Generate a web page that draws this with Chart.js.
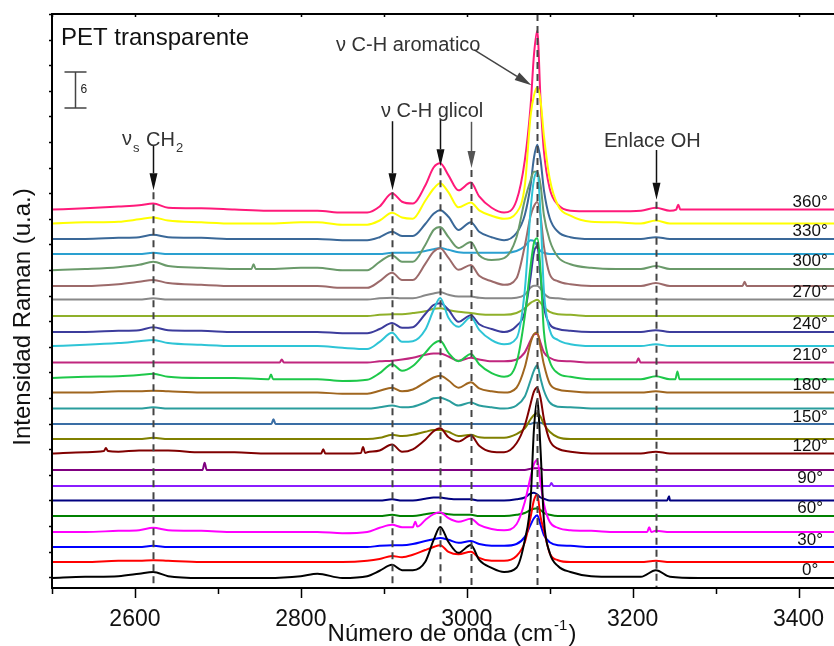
<!DOCTYPE html>
<html>
<head>
<meta charset="utf-8">
<script src="https://cdn.jsdelivr.net/npm/chart.js@4/dist/chart.umd.min.js"></script>
<style>
  html, body { margin: 0; padding: 0; background: #fff; overflow: hidden; }
</style>
</head>
<body>
<canvas id="raman" width="842" height="646"></canvas>
<script>
// Raman shift grid (cm-1), shared by all spectra
const wavenumbers = [2500, 2540, 2580, 2605, 2622, 2640, 2680, 2720, 2760, 2800,
  2820, 2850, 2880, 2895, 2910, 2922, 2935, 2950, 2960, 2968,
  2978, 2990, 3005, 3015, 3030, 3045, 3060, 3070, 3077, 3081,
  3085, 3089, 3093, 3100, 3110, 3125, 3150, 3180, 3210, 3228,
  3245, 3280, 3340, 3400, 3450];

// rotation angle of each spectrum (degrees)
const angles = [0, 15, 30, 45, 60, 75, 90, 105, 120, 135, 150, 165, 180,
  195, 210, 225, 240, 255, 270, 285, 300, 315, 330, 345, 360];

// vertical offset of each spectrum in the stack (u.a.)
const offsets = [1.67, 4.33, 6.83, 9.33, 12, 14.58, 17, 19.67, 22.42, 24.83, 27.33, 29.92,
  32.58, 35, 37.58, 40.33, 42.67, 45.33, 48.08, 50.33, 53.17, 55.67, 58.17, 60.75, 63.08];

// bottom axis labels
const xTickLabels = [2600, 2800, 3000, 3200, 3400];

// intensities above each spectrum's own baseline (u.a.)
const s0 = [0,0.2,0.3,0.7,1,0.3,0,0,0,0.3, 0.7,0,0.3,1.2,2.2,1.3,1.3,2.7,6.3,8.5, 6,4.2,5.5,3,1.7,1,1.7,6.3,13,24.7, 29.7,21.3,9.7,4.2,2,1,0.3,0.2,0.2,1.3, 0.2,0,0,0,0];
const s15 = [0,0,0.2,0.2,0.3,0.2,0,0,0,0, 0,0,0.2,0.5,1,0.8,1.2,2,2.5,2.8, 1.7,1.3,1.7,0.7,0.2,0.2,1,3.3,7.5,10.3, 11.2,7.5,5.3,1.5,0.3,0,0,0,0,0.2, 0,0,0,0,0];
const s30 = [0,0,0,0,0.2,0,0,0,0,0, 0,0,0,0.2,0.3,0.3,0.5,1,1.3,1.5, 1.2,0.7,1,0.5,0.2,0.2,0.5,1.7,3.7,4.8, 5.3,3.7,2,0.8,0.3,0.2,0,0,0,0, 0,0,0,0,0];
const s45 = [0,0,0.2,0.3,0.7,0.3,0.2,0,0,0, 0,-0.2,0,0.7,1.2,0.8,0.8,2,3,3.3, 2.3,1.7,2.2,1.2,0.5,0.3,1.3,5,9.2,11.3, 12,8.2,4.7,1.7,0.7,0.3,0.2,0,0,0.2, 0,0,0,0,0];
const s60 = [0,0,0,0,0,0,0,0,0,0, 0,0,0,0,0.2,0,0,0.3,0.5,0.5, 0.3,0.2,0.2,0,0,0,0.2,0.5,1,1.2, 1.3,1,0.5,0.2,0,0,0,0,0,0, 0,0,0,0,0];
const s75 = [0,0,0,0,0,0,0,0,0,0, 0,0,0,0,0.2,0,0,0.3,0.5,0.5, 0.3,0.2,0.2,0,0,0,0.2,0.5,1.2,1.3, 1,0.5,0.3,0,0,0,0,0,0,0, 0,0,0,0,0];
const s90 = [0,0,0,0,0,0,0,0,0,0, 0,0,0,0,0,0,0,0,0,0, 0,0,0,0,0,0,0,0,0,0, 0,0,0,0,0,0,0,0,0,0, 0,0,0,0,0];
const s105 = [0,0,0,0,0,0,0,0,0,0, 0,0,0,0,0,0,0,0,0,0, 0,0,0,0,0,0,0,0,0.2,0.3, 0.3,0.3,0,0,0,0,0,0,0,0, 0,0,0,0,0];
const s120 = [0,0.2,0.3,0.5,0.5,0.5,0.2,0.2,0,0, 0,0,0.2,0.5,1.5,0.3,0.7,2.3,3.7,4.2, 2.7,2,3,1.3,0.3,0.2,1.7,4.7,8.3,10.3, 11,9.2,5.8,2.2,0.8,0.3,0,0,0,0.3, 0,0,0,0,0];
const s135 = [0,0,0,0,0.2,0,0,0,0,0, 0,0,0,0.2,0.7,0.5,0.7,1.2,1.5,1.5, 1.2,0.5,0.7,0.3,0.2,0.2,0.8,1.8,3.3,4, 4.3,3.7,2.5,1.2,0.3,0,0,0,0,0, 0,0,0,0,0];
const s150 = [0,0,0,0,0,0,0,0,0,0, 0,0,0,0,0,0,0,0,0,0, 0,0,0,0,0,0,0,0,0,0.2, 0.2,0.2,0,0,0,0,0,0,0,0, 0,0,0,0,0];
const s165 = [0,0,0,0,0.2,0,0,0,0,0, 0,0,0,0.2,0.5,0.2,0.3,1,1.7,1.8, 1.3,0.5,1,0.5,0.2,0,0.5,2,4.7,6.3, 7.2,5,3,1,0.3,0.2,0,0,0,0, 0,0,0,0,0];
const s180 = [0,0,0.2,0.2,0.3,0.2,0,0,0,0, 0,-0.2,-0.2,0.3,0.8,0.2,0.5,1.7,2.5,2.8, 2,0.8,1.7,0.7,0.2,0,0.8,4.2,8.3,9.7, 10,7.5,4.7,1.5,0.5,0.2,0,0,0,0.2, 0,0,0,0,0];
const s195 = [0,0.2,0.3,0.5,0.7,0.2,0,0,-0.2,-0.2, -0.2,-0.5,-0.3,0.8,2.3,1.2,2,4.2,5.7,6.2, 4.2,2.8,4,2.3,0.8,0.2,2.5,10.3,18.7,22.5, 23.3,17.8,7.8,2.8,0.8,0.2,-0.2,-0.2,-0.2,0.3, -0.2,-0.2,-0.2,-0.2,-0.2];
const s210 = [0,0,0,0,0,0,0,0,0,0, 0,0,0,0.2,0.3,0.5,0.8,1.3,1.5,1.5, 1,0.3,0.8,0.5,0.2,0.2,0.5,1.7,3.7,4.7, 4.8,3.3,1.7,0.8,0.3,0.2,0,0,0,0, 0,0,0,0,0];
const s225 = [0,0.2,0.5,0.8,1,0.5,0.2,0,0,0, 0,-0.3,-0.5,0.7,2.2,0.7,0.8,2.7,6,8, 4.7,3.2,4.8,2.7,1,0.3,1.3,9.3,22.7,27.7, 29,21.8,9.3,2.7,1,0.3,0,0,0,0.3, 0,0,0,0,0];
const s240 = [0,0,0.2,0.3,0.8,0.3,0.2,0,0,0, 0,-0.2,-0.2,0.5,1.5,0.7,0.8,3,4.5,4.8, 3.7,1.7,2.8,1.3,0.5,0,1,3.3,9.2,13.3, 14.3,9.2,4.2,1.3,0.5,0.2,0,0,0,0.3, 0,0,0,0,0];
const s255 = [0,0,0,0,0,0,0,0,0,0, 0,0,0,0.2,0.3,0.3,0.5,0.8,1.2,1.3, 1,0.7,0.5,0.3,0.2,0.2,0.5,1.3,2.2,2.5, 2.7,2.2,1.5,0.7,0.3,0.2,0,0,0,0, 0,0,0,0,0];
const s270 = [0,0,0,0,0.2,0,0,0,0,0, 0,0,0,0.2,0.3,0.2,0.2,0.7,1,1.2, 0.8,0.5,0.5,0.3,0.2,0.2,0.3,0.8,2,2.3, 2.3,1.8,1,0.3,0.2,0,0,0,0,0, 0,0,0,0,0];
const s285 = [0,0,0.3,0.7,1,0.5,0.2,0,0,0, 0,-0.3,-0.3,0.8,2.2,1,1,3.7,5.7,6.3, 4.7,2.7,3.5,1.7,0.8,0.2,1.3,6.7,11.7,13.3, 14,11.7,6.7,2,0.8,0.3,0,0,0,0.5, 0,0,0,0,0];
const s300 = [-0.2,0,0.3,0.7,1.2,0.5,0.2,0,0,0.2, 0.2,-0.2,-0.2,1.2,2.3,1.2,1.2,4,6.5,7, 5.3,3.5,4.5,2.3,1.5,1.8,5.3,11.5,14.8,16.2, 16.2,14,9,4.8,2,0.8,0.2,0,0,0.5, 0,0,0,0,0];
const s315 = [0,0,0,0,0.2,0,0,0,0,0, 0,0,0,0,0.2,0.2,0.2,0.5,0.8,1, 0.7,0.3,0.2,0.2,0.2,0.2,0.5,1.3,2.3,2.2, 1.3,0.5,0.2,0,0,0,0,0,0,0, 0,0,0,0,0];
const s330 = [0,0,0.2,0.3,0.7,0.3,0.2,0,0,0, 0,-0.2,-0.2,0.3,1.2,0.5,0.5,2.5,4.2,4.8, 3.7,1.5,2.8,1.2,0.3,-0.2,1,4,9,13.5, 15.7,13.2,8.2,3.5,1.2,0.3,0,0,0,0.3, 0,0,0,0,0];
const s345 = [0,0.2,0.3,0.7,1,0.5,0.2,0,0,0.2, 0.2,-0.2,-0.2,0.5,1.8,1,0.8,3.8,5.8,6.7, 5.2,2.7,3.5,2.2,1.3,0.8,1.8,6.3,18,21.3, 22.7,20.5,14.7,7.5,3,1.3,0.3,0.2,0,0.5, 0,0,0,0,0];
const s360 = [0,0.2,0.5,0.7,1,0.3,0.2,0,-0.2,-0.2, -0.2,-0.5,-0.5,0.5,2.7,1.3,1,4,7,7.7, 5.7,3.2,4.5,2.2,0.3,-0.5,1.5,8.2,17.3,25.7, 29.8,18.2,9.8,3.5,0.8,-0.2,-0.3,-0.3,-0.2,0.3, -0.2,0,0,0,0];

const spectra = [s0, s15, s30, s45, s60, s75, s90, s105, s120, s135, s150, s165, s180,
  s195, s210, s225, s240, s255, s270, s285, s300, s315, s330, s345, s360];

// narrow cosmic-ray spikes: [angle, wavenumber, local base, top]
const spikes = [
  [360, 3255, 0, 0.8], [300, 2743, 0, 0.8], [285, 3335, 0, 0.7],
  [210, 2777, 0, 0.5], [210, 3207, 0, 0.7], [195, 2764, -0.2, 0.6],
  [195, 3254, -0.2, 1.1], [150, 2767, 0, 0.8], [120, 2565, 0.4, 0.9],
  [120, 2827, 0, 0.7], [120, 2875, 0.1, 1.1], [105, 2684, 0, 1.2],
  [90, 3102, 0, 0.5], [75, 3244, 0, 0.7], [45, 2938, 0.9, 1.7], [45, 3220, 0, 0.8]
];

// marked bands: wavenumber, arrow tail and tip heights (u.a.)
const bands = [
  { wn: 2622, tail: 73.8, tip: 66.3, color: '#111' },
  { wn: 2910, tail: 77.8, tip: 66.3, color: '#111' },
  { wn: 2968, tail: 78.0, tip: 70.3, color: '#111' },
  { wn: 3005, tail: 77.7, tip: 70.0, color: '#555' },
  { wn: 3228, tail: 73.0, tip: 64.7, color: '#111' }
];
const aromaticBand = 3085;

const colors = ['#000000', '#ff0000', '#0000ff', '#ff00ff', '#008000', '#000080', '#8a1cff',
  '#800080', '#800000', '#808000', '#3a6ea5', '#2a9d9d', '#a0661f', '#1ec84a', '#c0267e',
  '#2ec4d6', '#3c3c9c', '#8fb02a', '#888888', '#9c6a6a', '#6a9a6a', '#2aa0d0', '#3a6898',
  '#ffff00', '#ff1a7a'];

const FONT = '"Liberation Sans", Arial, sans-serif';
Chart.defaults.font.family = FONT;

function buildPoints(i) {
  const pts = wavenumbers.map((wn, k) => ({ x: wn, y: offsets[i] + spectra[i][k] }));
  spikes.filter(s => s[0] === angles[i]).forEach(([, wn, base, top]) => {
    pts.push({ x: wn - 2.5, y: offsets[i] + base }, { x: wn, y: offsets[i] + top },
      { x: wn + 2.5, y: offsets[i] + base });
  });
  return pts.sort((a, b) => a.x - b.x);
}

function arrow(ctx, x1, y1, x2, y2, color, head, half) {
  const ang = Math.atan2(y2 - y1, x2 - x1);
  const c = Math.cos(ang), s = Math.sin(ang);
  ctx.setLineDash([]);
  ctx.strokeStyle = color;
  ctx.fillStyle = color;
  ctx.lineWidth = 1.5;
  ctx.beginPath();
  ctx.moveTo(x1, y1);
  ctx.lineTo(x2 - head * c, y2 - head * s);
  ctx.stroke();
  ctx.beginPath();
  ctx.moveTo(x2, y2);
  ctx.lineTo(x2 - head * c + half * s, y2 - head * s - half * c);
  ctx.lineTo(x2 - head * c - half * s, y2 - head * s + half * c);
  ctx.closePath();
  ctx.fill();
}

const YTICK_STEP = 4.267;

const decorations = {
  id: 'decorations',
  afterDraw(chart) {
    const { ctx, chartArea: a, scales: { x, y } } = chart;
    ctx.save();

    // dashed band markers
    ctx.strokeStyle = '#444';
    ctx.lineWidth = 2;
    ctx.setLineDash([7, 5]);
    bands.forEach(b => {
      const px = Math.round(x.getPixelForValue(b.wn)) + 0.5;
      ctx.beginPath();
      ctx.moveTo(px, y.getPixelForValue(b.tip) + 2);
      ctx.lineTo(px, a.bottom);
      ctx.stroke();
    });
    const apx = Math.round(x.getPixelForValue(aromaticBand)) + 0.5;
    ctx.beginPath();
    ctx.moveTo(apx, a.top);
    ctx.lineTo(apx, a.bottom);
    ctx.stroke();

    // arrows
    bands.forEach(b => {
      const px = Math.round(x.getPixelForValue(b.wn)) + 0.5;
      arrow(ctx, px, y.getPixelForValue(b.tail), px, y.getPixelForValue(b.tip), b.color, 17, 4);
    });
    arrow(ctx, x.getPixelForValue(3009), y.getPixelForValue(89.7),
      x.getPixelForValue(3078), y.getPixelForValue(83.8), '#444', 17, 4.5);

    // frame
    ctx.setLineDash([]);
    ctx.strokeStyle = '#000';
    ctx.lineWidth = 2;
    ctx.beginPath();
    ctx.moveTo(a.right + 5, a.top);
    ctx.lineTo(a.left, a.top);
    ctx.lineTo(a.left, a.bottom);
    ctx.lineTo(a.right + 5, a.bottom);
    ctx.stroke();

    // x ticks: bottom outward, top inward
    ctx.lineWidth = 1.5;
    for (let wn = 2500; wn <= 3400; wn += 100) {
      const px = Math.round(x.getPixelForValue(wn)) + 0.5;
      const len = wn % 200 === 0 ? 10 : 6;
      ctx.beginPath();
      ctx.moveTo(px, a.bottom);
      ctx.lineTo(px, a.bottom + len);
      ctx.moveTo(px, a.top);
      ctx.lineTo(px, a.top + 3);
      ctx.stroke();
    }
    // y ticks, unlabeled
    for (let v = y.max; v > y.min; v -= YTICK_STEP) {
      const py = Math.round(y.getPixelForValue(v)) + 0.5;
      ctx.beginPath();
      ctx.moveTo(a.left, py);
      ctx.lineTo(a.left - 3, py);
      ctx.stroke();
    }

    // intensity scale bar (6 u.a.)
    const bx = Math.round(x.getPixelForValue(2528)) + 0.5;
    const by1 = y.getPixelForValue(86), by0 = y.getPixelForValue(80);
    ctx.strokeStyle = '#444';
    ctx.lineWidth = 1.5;
    ctx.beginPath();
    ctx.moveTo(bx, by1); ctx.lineTo(bx, by0);
    ctx.moveTo(bx - 11, by1); ctx.lineTo(bx + 11, by1);
    ctx.moveTo(bx - 11, by0); ctx.lineTo(bx + 11, by0);
    ctx.stroke();
    ctx.fillStyle = '#222';
    ctx.font = '12px ' + FONT;
    ctx.textBaseline = 'middle';
    ctx.fillText('6', bx + 5, (by0 + by1) / 2);

    // labels
    ctx.textBaseline = 'alphabetic';
    ctx.fillStyle = '#111';
    ctx.font = '24px ' + FONT;
    ctx.fillText('PET transparente', 61, 45);

    ctx.fillStyle = '#333';
    ctx.font = '20px ' + FONT;
    ctx.fillText('\u03bd C-H aromatico', 336, 51);
    ctx.fillText('\u03bd C-H glicol', 381, 117);
    ctx.fillText('Enlace OH', 604, 147);

    ctx.fillText('\u03bd', 122, 145);
    ctx.font = '13px ' + FONT;
    ctx.fillText('s', 133, 152);
    ctx.font = '20px ' + FONT;
    ctx.fillText('CH', 146, 146);
    const chw = ctx.measureText('CH').width;
    ctx.font = '13px ' + FONT;
    ctx.fillText('2', 146 + chw + 1, 152);

    // angle of each spectrum, every 30 degrees
    ctx.fillStyle = '#111';
    ctx.font = '17px ' + FONT;
    ctx.textAlign = 'center';
    ctx.textBaseline = 'middle';
    const lx = x.getPixelForValue(3414);
    angles.forEach((ang, i) => {
      if (ang % 30 === 0) ctx.fillText(ang + '\u00b0', lx, y.getPixelForValue(offsets[i] + 1.2));
    });

    // axis titles
    ctx.fillStyle = '#111';
    ctx.textBaseline = 'alphabetic';
    ctx.textAlign = 'left';
    const main = 'N\u00famero de onda (cm', sup = '-1', close = ')';
    ctx.font = '24px ' + FONT;
    const wMain = ctx.measureText(main).width, wClose = ctx.measureText(close).width;
    ctx.font = '15px ' + FONT;
    const wSup = ctx.measureText(sup).width;
    let tx = 452 - (wMain + wSup + wClose + 2) / 2;
    ctx.font = '24px ' + FONT;
    ctx.fillText(main, tx, 641);
    ctx.font = '15px ' + FONT;
    ctx.fillText(sup, tx + wMain + 1, 630);
    ctx.font = '24px ' + FONT;
    ctx.fillText(close, tx + wMain + wSup + 2, 641);

    ctx.translate(30, 317);
    ctx.rotate(-Math.PI / 2);
    ctx.textAlign = 'center';
    ctx.fillText('Intensidad Raman (u.a.)', 0, 0);

    ctx.restore();
  }
};

new Chart(document.getElementById('raman'), {
  type: 'line',
  data: {
    datasets: angles.map((ang, i) => ({
      label: ang + '\u00b0',
      data: buildPoints(i),
      borderColor: colors[i],
      borderWidth: 2,
      pointRadius: 0,
      cubicInterpolationMode: 'monotone',
      fill: false
    }))
  },
  options: {
    responsive: false,
    animation: false,
    layout: { padding: { top: 14, right: 2, left: 0, bottom: 0 } },
    plugins: {
      legend: { display: false },
      tooltip: { enabled: false }
    },
    scales: {
      x: {
        type: 'linear',
        min: 2500,
        max: 3450,
        grid: { display: false },
        border: { display: false },
        ticks: {
          autoSkip: false,
          maxRotation: 0,
          padding: 10,
          color: '#111',
          font: { size: 23 },
          callback: v => String(v)
        },
        afterBuildTicks: s => { s.ticks = xTickLabels.map(v => ({ value: v })); },
        afterFit: s => { s.height = 58; s.paddingLeft = 0; s.paddingRight = 0; }
      },
      y: {
        min: 0,
        max: 95.67,
        grid: { display: false },
        border: { display: false },
        ticks: { display: false },
        afterFit: s => { s.width = 52; }
      }
    }
  },
  plugins: [decorations]
});
</script>
</body>
</html>
